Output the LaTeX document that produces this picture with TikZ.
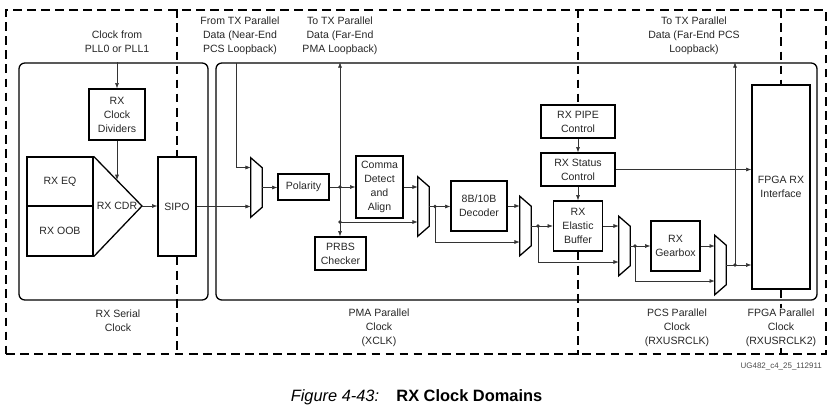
\documentclass[tikz,border=0pt]{standalone}
\usepackage{fontspec}
\setmainfont{Liberation Sans}
\usetikzlibrary{arrows.meta}

\tikzset{
  box/.style={draw, line width=1.1pt, align=center, inner sep=1pt, text=black!85},
  frame/.style={draw, line width=1.1pt, rounded corners=5pt, inner sep=0pt},
  clkdom/.style={draw, line width=1.1pt, dash pattern=on 7.5pt off 4.5pt},
  sig/.style={draw=black!80, line width=0.55pt, -{Latex[length=4.5pt,width=3.4pt]}},
  wire/.style={draw=black!80, line width=0.55pt},
  muxbox/.style={minimum width=0.33cm, minimum height=1.77cm, inner sep=0pt},
  lbl/.style={align=center, text=black!85},
}
\newcommand{\drawmux}[1]{%
  \draw[line width=1.1pt] (#1.north west) -- ([yshift=-0.3cm]#1.north east)
    -- ([yshift=0.3cm]#1.south east) -- (#1.south west) -- cycle;}

\begin{document}
\begin{tikzpicture}[x=0.03cm, y=-0.03cm, font=\fontsize{9}{11.9}\selectfont]
                \useasboundingbox (0,0) rectangle (835,407);

                % Clock domains
                \node[clkdom, minimum width=24.6cm, minimum height=10.32cm] (outer) at (416,182) {};
                \node[frame, minimum width=5.67cm, minimum height=7.11cm] (ser) at (113.5,181.5) {};
                \node[frame, minimum width=18.03cm, minimum height=7.11cm] (par) at (516.5,181.5) {};

                % Nodes
                \node[box, minimum width=1.68cm, minimum height=1.53cm] (div) at (117,114.5) {RX\\Clock\\Dividers};
                \node[box, minimum width=1.98cm, minimum height=1.47cm] (eq) at (60,181.5) {RX EQ};
                \node[box, minimum width=1.98cm, minimum height=1.5cm] (oob) at (60,231) {RX OOB};
                \node[lbl] (cdr) at (117,206) {RX CDR};
                \coordinate (cdrtip) at (142,206);
                \coordinate (cdrin) at (117,180);
                \node[box, minimum width=1.14cm, minimum height=2.97cm] (sipo) at (177,206.5) {SIPO};
                \node[box, minimum width=1.53cm, minimum height=0.78cm] (pol) at (303.5,187) {Polarity};
                \node[box, minimum width=1.41cm, minimum height=1.86cm] (comma) at (379.5,187) {Comma\\Detect\\and\\Align};
                \node[box, minimum width=1.53cm, minimum height=0.99cm] (prbs) at (340.5,253.5) {PRBS\\Checker};
                \node[box, minimum width=1.68cm, minimum height=1.5cm] (dec) at (479,206) {8B/10B\\Decoder};
                \node[box, minimum width=2.22cm, minimum height=0.99cm] (pipe) at (578,121.5) {RX PIPE\\Control};
                \node[box, minimum width=2.22cm, minimum height=0.99cm] (status) at (578,169.5) {RX Status\\Control};
                \node[box, minimum width=1.47cm, minimum height=1.5cm] (ebuf) at (578,226) {RX\\Elastic\\Buffer};
                \node[box, minimum width=1.47cm, minimum height=1.5cm] (gear) at (675.5,246) {RX\\Gearbox};
                \node[box, minimum width=1.74cm, minimum height=6.12cm] (fpga) at (781,187) {FPGA RX\\Interface};

                % Muxes
                \node[muxbox] (m1) at (256.5,187.5) {};
                \node[muxbox] (m2) at (423.5,206.5) {};
                \node[muxbox] (m3) at (525.5,226) {};
                \node[muxbox] (m4) at (624.5,246) {};
                \node[muxbox] (m5) at (720.5,265) {};
                \drawmux{m1} \drawmux{m2} \drawmux{m3} \drawmux{m4} \drawmux{m5}
                \draw[line width=1.1pt] (eq.north east) -- (cdrtip) -- (oob.south east);

                % Junctions
                \coordinate (t1) at (236,63);
                \coordinate (j1) at (340,187);
                \coordinate (j1b) at (340,222);
                \coordinate (j2) at (435,206.5);
                \coordinate (j3) at (538,226);
                \coordinate (j4) at (635,246);
                \coordinate (j5) at (735,265);

                % Domain dividers
                \draw[clkdom] (sipo.north |- outer.north) -- (sipo.north);
                \draw[clkdom] (sipo.south) -- (sipo.south |- outer.south);
                \draw[clkdom] (pipe.north |- outer.north) -- (pipe.north);
                \draw[clkdom] (ebuf.south) -- (ebuf.south |- outer.south);
                \draw[clkdom] (fpga.north |- outer.north) -- (fpga.north);
                \draw[clkdom] (fpga.south) -- (fpga.south |- outer.south);

                % Labels
                \node[lbl] (pll) at (117,42) {Clock from\\PLL0 or PLL1};
                \node[lbl] (near) at (240,36) {From TX Parallel\\Data (Near-End\\PCS Loopback)};
                \node[lbl] (farpma) at (340,36) {To TX Parallel\\Data (Far-End\\PMA Loopback)};
                \node[lbl] (farpcs) at (694,36) {To TX Parallel\\Data (Far-End PCS\\Loopback)};
                \node[lbl] (serclk) at (118,321) {RX Serial\\Clock};
                \node[lbl] (xclk) at (379,328) {PMA Parallel\\Clock\\(XCLK)};
                \node[lbl] (usrclk) at (677,328) {PCS Parallel\\Clock\\(RXUSRCLK)};
                \node[lbl, fill=white, inner sep=1pt] (usrclk2) at (781,328) {FPGA Parallel\\Clock\\(RXUSRCLK2)};
                \node[anchor=east, text=black!70, font=\fontsize{6.8}{8}\selectfont] (ug) at (826,367) {UG482\_c4\_25\_112911};
                \node[font=\fontsize{14}{16}\selectfont] (cap) at (416.5,397) {\textit{Figure 4-43:}\hspace{1.05em}\textbf{RX Clock Domains}};

                % Edges
                \draw[sig] (div.north |- ser.north) -- (div.north);
                \draw[sig] (div.south) -- (cdrin);
                \draw[sig] (cdrtip) -- (cdrtip -| sipo.west);
                \draw[sig] (sipo.east) -- (sipo.east -| m1.west);
                \draw[sig] (t1) |- ([yshift=0.6cm]m1.west);
                \draw[sig] (m1.east) -- (m1.east -| pol.west);
                \draw[wire] (pol.east) -- (j1);
                \draw[sig] (j1) -- (comma.west);
                \draw[sig] (j1) -- (j1 |- par.north);
                \draw[sig] (j1) -- (j1 |- prbs.north);
                \draw[sig] (j1b) -- (j1b -| m2.west);
                \draw[sig] (comma.east) -- (comma.east -| m2.west);
                \draw[wire] (m2.east) -- (j2);
                \draw[sig] (j2) -- (j2 -| dec.west);
                \draw[sig] (j2) |- ([yshift=-0.48cm]m3.west);
                \draw[sig] (dec.east) -- (dec.east -| m3.west);
                \draw[wire] (m3.east) -- (j3);
                \draw[sig] (j3) -- (j3 -| ebuf.west);
                \draw[sig] (j3) |- ([yshift=-0.48cm]m4.west);
                \draw[sig] (ebuf.east) -- (ebuf.east -| m4.west);
                \draw[wire] (m4.east) -- (j4);
                \draw[sig] (j4) -- (j4 -| gear.west);
                \draw[sig] (j4) |- ([yshift=-0.48cm]m5.west);
                \draw[sig] (gear.east) -- (gear.east -| m5.west);
                \draw[wire] (m5.east) -- (j5);
                \draw[sig] (j5) -- (j5 -| fpga.west);
                \draw[sig] (j5) -- (j5 |- par.north);
                \draw[sig] (pipe.south) -- (status.north);
                \draw[sig] (status.south) -- (ebuf.north);
                \draw[sig] (status.east) -- (status.east -| fpga.west);
                \foreach \j in {j1,j1b,j2,j3,j4,j5}
                    \fill[black!80] (\j) circle (1.6pt);
            \end{tikzpicture}
\end{document}
